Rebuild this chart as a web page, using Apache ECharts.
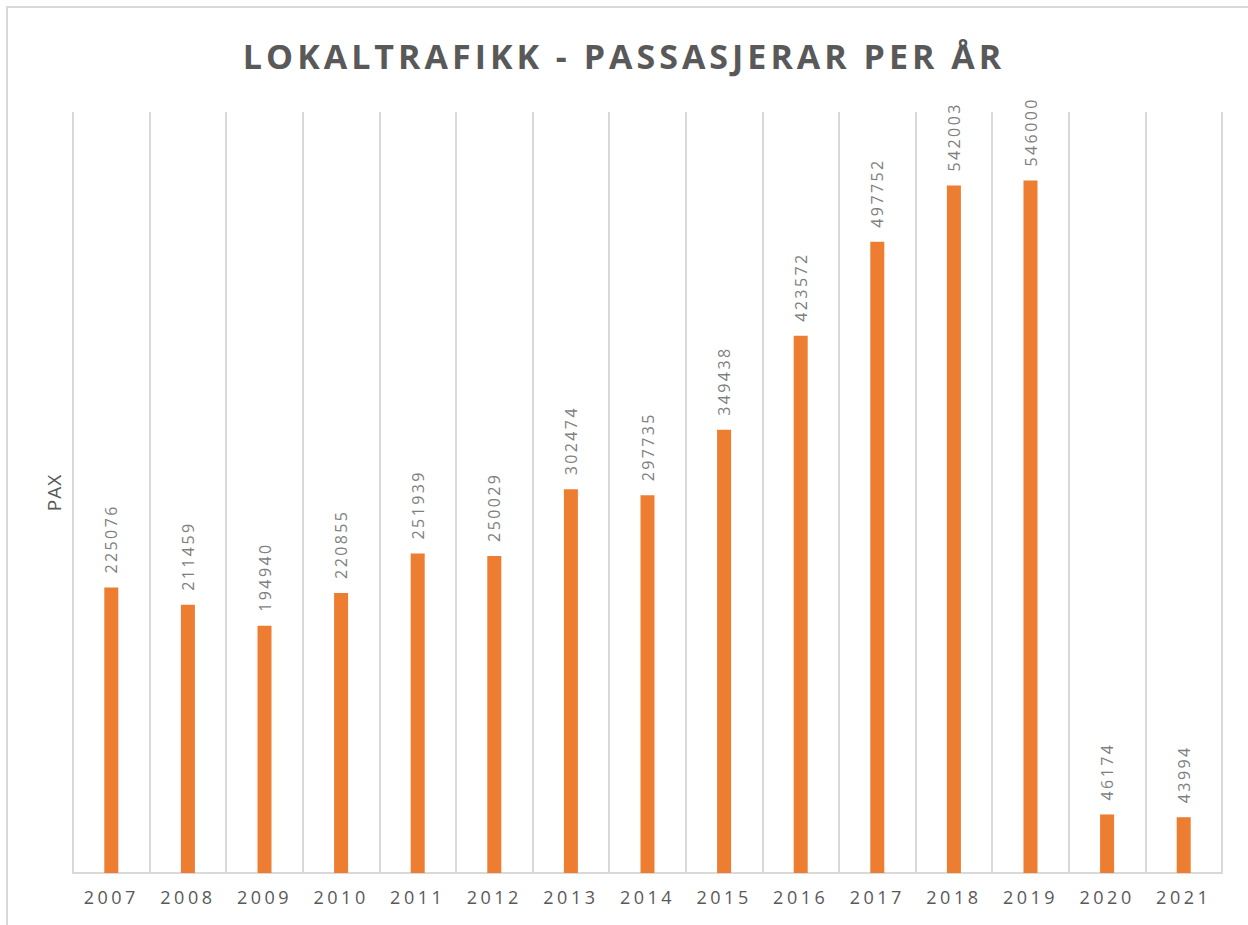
<!DOCTYPE html>
<html>
<head>
<meta charset="utf-8">
<script src="https://cdn.jsdelivr.net/npm/echarts@6/dist/echarts.min.js"></script>
<style>
  html, body { margin: 0; padding: 0; background: #fff; }
  #chart { width: 1248px; height: 925px; }
</style>
</head>
<body>
<div id="chart"></div>
<script>
const titleText = 'LOKALTRAFIKK - PASSASJERAR PER ÅR';
const yAxisName = 'PAX';
const years = ['2007','2008','2009','2010','2011','2012','2013','2014','2015','2016','2017','2018','2019','2020','2021'];
const passengers = [225076, 211459, 194940, 220855, 251939, 250029, 302474, 297735, 349438, 423572, 497752, 542003, 546000, 46174, 43994];

const chart = echarts.init(document.getElementById('chart'), null, { renderer: 'svg' });
chart.setOption({
  animation: false,
  backgroundColor: '#ffffff',
  title: {
    text: titleText,
    left: 'center',
    top: 34,
    textStyle: { fontFamily: 'Open Sans', fontWeight: 'bold', fontSize: 34, color: '#595959' }
  },
  graphic: [{
    type: 'rect',
    shape: { x: 7, y: 7, width: 1400, height: 1100 },
    style: { fill: 'none', stroke: '#d9d9d9', lineWidth: 2 },
    silent: true
  }],
  grid: { left: 73, right: 26, top: 112, bottom: 52 },
  xAxis: {
    type: 'category',
    data: years,
    boundaryGap: true,
    axisLine: { show: true, lineStyle: { color: '#d9d9d9', width: 2 } },
    axisTick: { show: false },
    splitLine: { show: true, interval: 0, lineStyle: { color: '#d9d9d9', width: 2 } },
    axisLabel: { margin: 15, fontFamily: 'Open Sans', fontSize: 18, color: '#595959' }
  },
  yAxis: {
    type: 'value',
    min: 0,
    max: 600000,
    interval: 100000,
    name: yAxisName,
    nameLocation: 'middle',
    nameGap: 10,
    nameRotate: 90,
    nameTextStyle: { fontFamily: 'Open Sans', fontSize: 19, color: '#595959' },
    axisLine: { show: false },
    axisTick: { show: false },
    axisLabel: { show: false },
    splitLine: { show: false }
  },
  series: [{
    type: 'bar',
    data: passengers,
    barWidth: 14,
    itemStyle: { color: '#ed7d31' },
    label: {
      show: true,
      position: 'top',
      rotate: 90,
      align: 'left',
      verticalAlign: 'middle',
      distance: 14,
      fontFamily: 'Open Sans',
      fontSize: 16,
      color: '#7f7f7f'
    }
  }]
});

function applySpacing() {
  document.querySelectorAll('#chart svg text').forEach(t => {
    const txt = t.textContent;
    if (txt === titleText) t.style.letterSpacing = '4px';
    else if (/^\d{4}$/.test(txt)) t.style.letterSpacing = '3.5px';
    else if (/^\d{5,6}$/.test(txt)) t.style.letterSpacing = '2.4px';
    else if (txt === yAxisName) t.style.letterSpacing = '1px';
  });
}
chart.on('finished', applySpacing);
applySpacing();
</script>
</body>
</html>
